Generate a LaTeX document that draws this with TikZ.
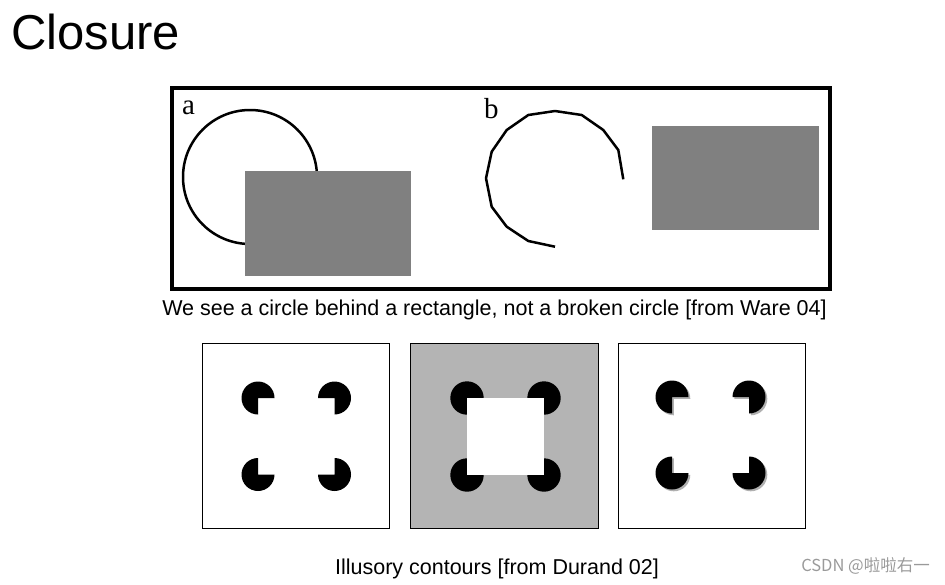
\documentclass[tikz,border=0pt]{standalone}
\usepackage{fontspec}
\setmainfont{Liberation Sans}
\newfontfamily\letterfont{Liberation Serif}
\newfontfamily\cjk{Noto Sans CJK SC}
\usetikzlibrary{positioning}
\definecolor{rectgray}{HTML}{808080}
\definecolor{panelgray}{HTML}{B4B4B4}
\definecolor{shadowgray}{HTML}{B0B0B0}
\definecolor{markgray}{HTML}{9A9A9A}

\begin{document}
\begin{tikzpicture}[x=1pt,y=-1pt]
\useasboundingbox (0,0) rectangle (945,584);
\node[font=\fontsize{49}{50}\selectfont,anchor=base west,inner sep=0] (title) at (11,49) {Closure};
% top figure: a and b
\draw[line width=3.5pt] (172,88) rectangle (830,289);
\node[font=\letterfont\fontsize{29}{29}\selectfont,anchor=base west,inner sep=0] (laba) at (182,114) {a};
\draw[line width=2.5pt] (250,177) circle (67);
\fill[rectgray] (245,171) rectangle (411,276);
\node[font=\letterfont\fontsize{29}{29}\selectfont,anchor=base west,inner sep=0] (labb) at (484,118) {b};
\draw[line width=2.5pt,line join=round] (623.3,179.3)--(618.3,150)--(603.3,130)--(581.7,115)--(555,111)--(528.3,115)--(506.7,130)--(491.7,151.7)--(486,178.3)--(491.7,206.7)--(506.7,226.7)--(528.3,241)--(555,246.7);
\fill[rectgray] (652,126) rectangle (819,230);
\node[font=\fontsize{21.5}{22}\selectfont,anchor=base,inner sep=0] (capware) at (494.5,315) {We see a circle behind a rectangle, not a broken circle [from Ware 04]};
% bottom figure: illusory contours
\draw[line width=1.2pt] (202.5,343.5) rectangle (389.5,528.5);
\foreach \cx/\cy/\a in {258/398/90,334.5/398/180,258/474.5/0,334.5/474.5/270}{\fill (\cx,\cy) -- ++(\a:16.5) arc[start angle=\a,delta angle=270,radius=16.5] -- cycle;}
\draw[line width=1.2pt,fill=panelgray] (410.5,343.5) rectangle (598.5,528.5);
\foreach \cx/\cy in {467/398,544/398,467/475,544/475}{\fill (\cx,\cy) circle (16.7);}
\fill[white] (467,398) rectangle (544,474.5);
\draw[line width=1.2pt] (618.5,343.5) rectangle (805.5,528.5);
\foreach \cx/\cy/\a in {672/397/90,749/397/180,672/473/0,749/473/270}{\fill[shadowgray] (\cx+1.8,\cy+1.8) -- ++(\a:16.5) arc[start angle=\a,delta angle=270,radius=16.5] -- cycle;
\fill (\cx,\cy) -- ++(\a:16.5) arc[start angle=\a,delta angle=270,radius=16.5] -- cycle;}
\node[font=\fontsize{21.5}{22}\selectfont,anchor=base,inner sep=0] (capdurand) at (497,574) {Illusory contours [from Durand 02]};
\node[font=\cjk\fontsize{16.5}{17}\selectfont,text=markgray,anchor=east,inner sep=0] (csdn) at (930,566) {CSDN @啦啦右一};
\end{tikzpicture}
\end{document}
